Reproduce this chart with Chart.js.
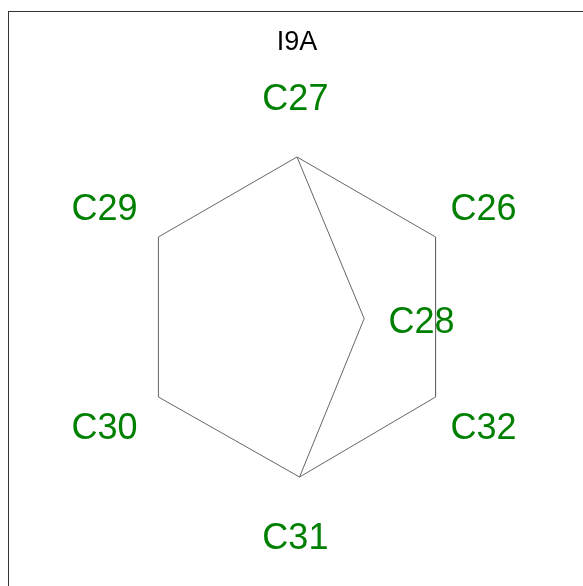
<!DOCTYPE html>
<html>
<head>
<meta charset="utf-8">
<script src="https://cdn.jsdelivr.net/npm/chart.js@4"></script>
<style>
  body { margin: 0; background: #fff; }
  canvas { display: block; }
</style>
</head>
<body>
<canvas id="molChart" width="583" height="586"></canvas>
<script>
// Atoms (coordinates in bond-length units)
const atomNames = ['C26', 'C27', 'C28', 'C29', 'C30', 'C31', 'C32'];
const atomX = [0.866, 0.0, 0.42, -0.866, -0.866, 0.016, 0.866];
const atomY = [0.5, 1.0, -0.01, 0.5, -0.5, -1.0, -0.5];

// where the green labels sit
const labelX = [1.166, -0.01, 0.778, -1.203, -1.203, -0.01, 1.166];
const labelY = [0.6875, 1.375, -0.02, 0.6875, -0.681, -1.369, -0.681];

// bonds as index pairs into atomNames
const bonds = [[1, 0], [0, 6], [6, 5], [5, 4], [4, 3], [3, 1], [1, 2], [2, 5]];

const titleText = 'I9A';

const bondSets = bonds.map(b => ({
    data: [{ x: atomX[b[0]], y: atomY[b[0]] }, { x: atomX[b[1]], y: atomY[b[1]] }],
    showLine: true,
    borderColor: '#666',
    borderWidth: 1,
    pointRadius: 0,
    pointHoverRadius: 0
}));

// labels go under the bonds, frame and title on top
const labelPlugin = {
    id: 'atomLabels',
    beforeDatasetsDraw(chart) {
        const ctx = chart.ctx;
        const xs = chart.scales.x, ys = chart.scales.y;
        ctx.save();
        ctx.fillStyle = '#008000';
        ctx.font = '36px "Liberation Sans", Arial, sans-serif';
        ctx.textAlign = 'center';
        ctx.textBaseline = 'alphabetic';
        atomNames.forEach((name, i) => {
            ctx.fillText(name, xs.getPixelForValue(labelX[i]), ys.getPixelForValue(labelY[i]) + 13);
        });
        ctx.restore();
    },
    afterDraw(chart) {
        const ctx = chart.ctx;
        ctx.save();
        ctx.strokeStyle = '#333';
        ctx.lineWidth = 1;
        ctx.strokeRect(8.5, 11.5, 700, 700);
        ctx.fillStyle = '#000';
        ctx.font = '27px "Liberation Sans", Arial, sans-serif';
        ctx.textAlign = 'center';
        ctx.textBaseline = 'alphabetic';
        ctx.fillText(titleText, 297, 50);
        ctx.restore();
    }
};

const molChart = new Chart(document.getElementById('molChart').getContext('2d'), {
    type: 'scatter',
    data: { datasets: bondSets },
    options: {
        responsive: false,
        animation: false,
        layout: { padding: 0 },
        plugins: {
            legend: { display: false },
            tooltip: { enabled: false }
        },
        scales: {
            x: { type: 'linear', min: -1.856, max: 1.7875, display: false },
            y: { type: 'linear', min: -1.681, max: 1.981, display: false }
        }
    },
    plugins: [labelPlugin]
});
</script>
</body>
</html>
